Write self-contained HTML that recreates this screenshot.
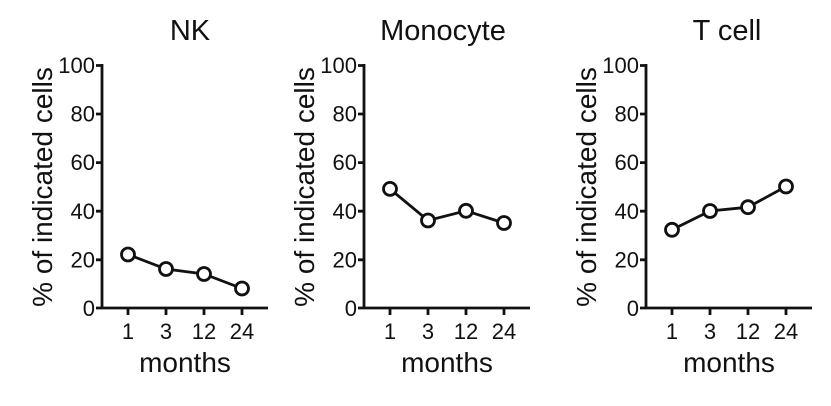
<!DOCTYPE html>
<html><head><style>
html,body{margin:0;padding:0;background:#fff;}
svg{display:block;font-family:"Liberation Sans",Arial,sans-serif;}
</style></head><body>
<svg width="831" height="406" viewBox="0 0 831 406" xmlns="http://www.w3.org/2000/svg">
<defs>
<g id="axes" fill="#111" stroke="none">
  <path d="M102 64 V309 M96 308 H268 M96 65.5 H102 M96 114 H102 M96 162.6 H102 M96 211.2 H102 M96 259.8 H102 M128 308 V315 M166 308 V315 M204 308 V315 M242 308 V315" stroke="#111" stroke-width="2.8" fill="none"/>
  <g font-size="22" text-anchor="end">
    <text x="95" y="73">100</text>
    <text x="95" y="121.5">80</text>
    <text x="95" y="170">60</text>
    <text x="95" y="219">40</text>
    <text x="95" y="267.5">20</text>
    <text x="95" y="316">0</text>
  </g>
  <g font-size="22" text-anchor="middle">
    <text x="128" y="339">1</text>
    <text x="166" y="339">3</text>
    <text x="204" y="339">12</text>
    <text x="242" y="339">24</text>
  </g>
  <text x="185" y="372" font-size="28" text-anchor="middle">months</text>
  <text transform="translate(52,187) rotate(-90)" font-size="28" text-anchor="middle">% of indicated cells</text>
</g>
</defs>

<g>
  <use href="#axes"/>
  <text x="190" y="40" font-size="29" text-anchor="middle" fill="#111">NK</text>
  <polyline points="128,254.5 166,269 204,274 242,288.5" fill="none" stroke="#111" stroke-width="2.8"/>
  <g fill="#fff" stroke="#111" stroke-width="2.8">
    <circle cx="128" cy="254.5" r="6.5"/><circle cx="166" cy="269" r="6.5"/><circle cx="204" cy="274" r="6.5"/><circle cx="242" cy="288.5" r="6.5"/>
  </g>
</g>

<g transform="translate(262,0)">
  <use href="#axes"/>
  <text x="181" y="40" font-size="29" text-anchor="middle" fill="#111">Monocyte</text>
  <polyline points="128,188.9 166,220.5 204,210.8 242,223" fill="none" stroke="#111" stroke-width="2.8"/>
  <g fill="#fff" stroke="#111" stroke-width="2.8">
    <circle cx="128" cy="188.9" r="6.5"/><circle cx="166" cy="220.5" r="6.5"/><circle cx="204" cy="210.8" r="6.5"/><circle cx="242" cy="223" r="6.5"/>
  </g>
</g>

<g transform="translate(544,0)">
  <use href="#axes"/>
  <text x="183" y="40" font-size="29" text-anchor="middle" fill="#111">T cell</text>
  <polyline points="128,229.8 166,211 204,207.2 242,186.5" fill="none" stroke="#111" stroke-width="2.8"/>
  <g fill="#fff" stroke="#111" stroke-width="2.8">
    <circle cx="128" cy="229.8" r="6.5"/><circle cx="166" cy="211" r="6.5"/><circle cx="204" cy="207.2" r="6.5"/><circle cx="242" cy="186.5" r="6.5"/>
  </g>
</g>
</svg>
</body></html>
